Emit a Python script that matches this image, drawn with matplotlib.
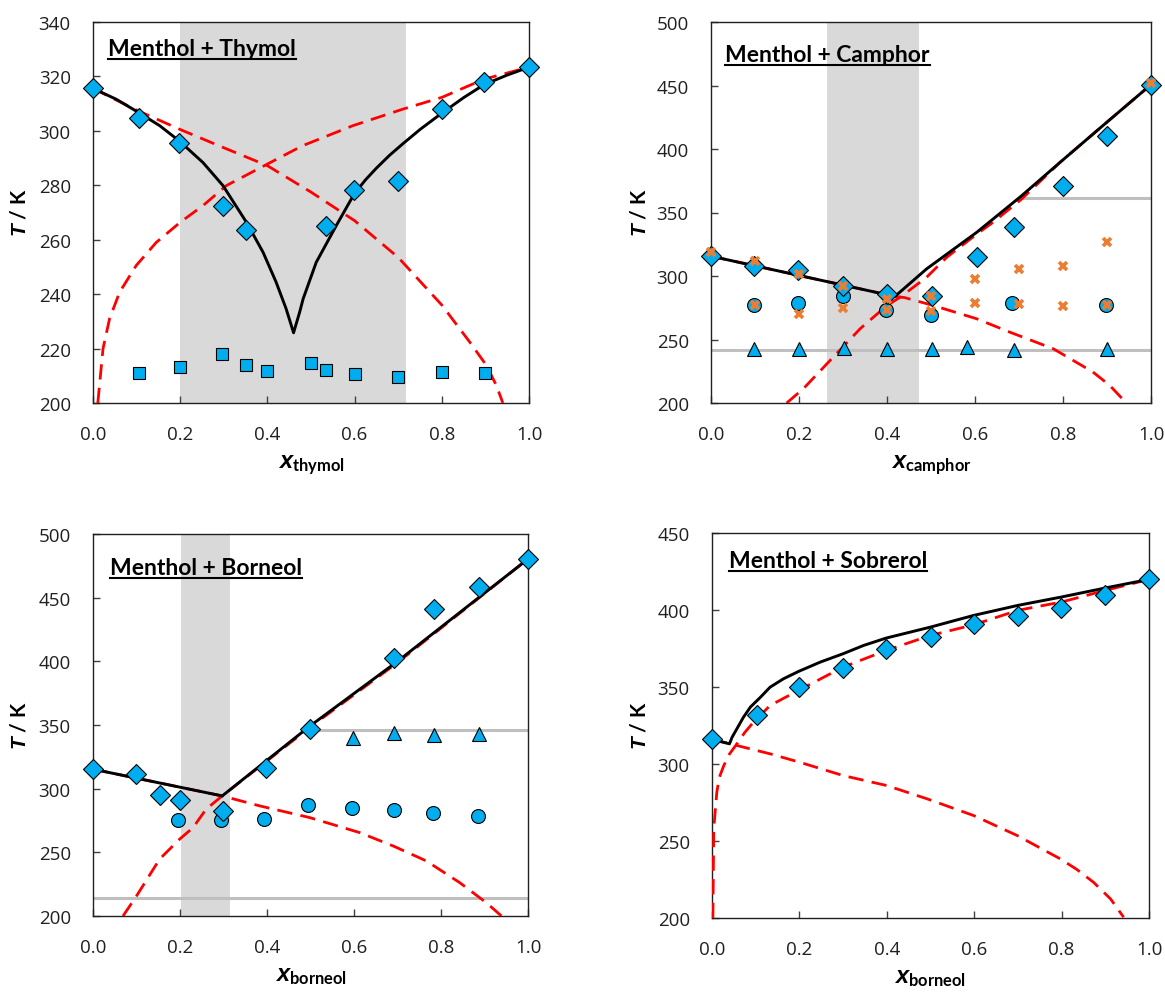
import matplotlib
matplotlib.use("Agg")
import matplotlib.pyplot as plt
from matplotlib.lines import Line2D

# ---- data ----
xticks = [0.0, 0.2, 0.4, 0.6, 0.8, 1.0]
xtick_labels = ["0.0", "0.2", "0.4", "0.6", "0.8", "1.0"]

# Menthol + Thymol
thy_x_liq = [0.0, 0.105, 0.197, 0.298, 0.352, 0.534, 0.599, 0.70, 0.80, 0.897, 1.0]
thy_T_liq = [315.6, 304.7, 295.5, 272.5, 263.7, 265.0, 278.4, 281.4, 308.2, 317.8, 323.4]
thy_x_sol = [0.105, 0.20, 0.297, 0.35, 0.40, 0.50, 0.534, 0.60, 0.70, 0.80, 0.898]
thy_T_sol = [211.0, 213.2, 218.0, 214.1, 211.9, 214.6, 212.2, 210.5, 209.4, 211.4, 211.0]
thy_x_fit = [0.0, 0.0535, 0.105, 0.153, 0.197, 0.252, 0.298, 0.352, 0.39, 0.42, 0.443, 0.46,
             0.474, 0.482, 0.512, 0.558, 0.599, 0.625, 0.65, 0.68, 0.711, 0.75, 0.80,
             0.85, 0.897, 0.95, 1.0]
thy_T_fit = [315.6, 311.6, 306.7, 301.9, 296.4, 288.4, 279.9, 266.4, 255.4, 244.4, 234.6, 225.8,
             233.4, 238.3, 251.7, 265.2, 276.8, 282.0, 286.3, 291.0, 295.3, 300.5, 306.5,
             312.2, 317.0, 320.5, 323.4]
thy_x_idA = [0.0, 0.10, 0.20, 0.30, 0.40, 0.50, 0.60, 0.70, 0.80, 0.864, 0.902, 0.925, 0.94]
thy_T_idA = [315.6, 307.6, 300.5, 293.8, 287.2, 277.5, 267.0, 253.5, 236.0, 222.4, 213.9, 206.5, 200.0]
thy_x_idB = [0.011, 0.023, 0.038, 0.061, 0.099, 0.145, 0.20, 0.252, 0.306, 0.40,
             0.48, 0.596, 0.711, 0.80, 0.897, 1.0]
thy_T_idB = [200.0, 220.0, 231.0, 240.7, 250.5, 259.0, 266.4, 272.5, 279.9, 287.8,
             294.5, 301.9, 308.0, 312.3, 319.0, 323.4]
thy_band = (0.20, 0.717)

# Menthol + Camphor
cam_x_liq = [0.0, 0.097, 0.198, 0.301, 0.40, 0.502, 0.604, 0.688, 0.799, 0.899, 1.0]
cam_T_liq = [315.6, 307.7, 305.1, 292.5, 285.7, 284.6, 315.3, 338.4, 370.6, 410.4, 450.7]
cam_x_cir = [0.097, 0.197, 0.301, 0.398, 0.50, 0.685, 0.897]
cam_T_cir = [277.3, 278.9, 283.9, 273.6, 268.9, 278.9, 277.3]
cam_x_tri = [0.097, 0.199, 0.303, 0.40, 0.502, 0.581, 0.688, 0.899]
cam_T_tri = [242.7, 242.7, 243.3, 242.7, 242.7, 244.0, 241.9, 242.7]
cam_x_lit = [0.0, 0.10, 0.10, 0.20, 0.20, 0.30, 0.30, 0.40, 0.40, 0.50, 0.50,
             0.60, 0.60, 0.70, 0.70, 0.80, 0.80, 0.90, 0.90, 1.0]
cam_T_lit = [318.7, 312.2, 277.3, 301.7, 270.2, 292.5, 274.7, 282.0, 272.9, 284.1, 272.1,
             297.7, 278.9, 305.6, 278.1, 308.2, 276.3, 326.6, 277.3, 451.8]
cam_x_fit = [0.0, 0.418, 0.49, 0.604, 0.706, 0.793, 0.899, 1.0]
cam_T_fit = [315.6, 283.9, 305.6, 334.4, 363.2, 389.4, 420.9, 450.7]
cam_x_idA = [0.0, 0.418, 0.44, 0.505, 0.604, 0.679, 0.778, 0.868, 0.906, 0.944]
cam_T_idA = [315.6, 283.9, 283.0, 276.8, 266.3, 255.8, 242.7, 224.4, 213.9, 200.0]
cam_x_idB = [0.172, 0.21, 0.278, 0.339, 0.40, 0.43, 0.49, 0.536, 0.604, 0.641, 0.706,
             0.793, 0.899, 1.0]
cam_T_idB = [200.0, 211.3, 236.2, 258.5, 276.8, 283.3, 299.0, 314.8, 333.0, 342.3, 360.6,
             389.4, 420.9, 450.7]
cam_band = (0.263, 0.472)
cam_lines = [(241.4, 0.0, 1.0), (361.1, 0.706, 1.0)]

# Menthol + Borneol
bor_x_liq = [0.0, 0.098, 0.155, 0.199, 0.299, 0.397, 0.498, 0.693, 0.784, 0.887, 1.0]
bor_T_liq = [315.3, 311.9, 295.1, 290.9, 282.6, 316.1, 346.7, 402.3, 441.1, 458.1, 480.4]
bor_x_cir = [0.196, 0.295, 0.393, 0.495, 0.595, 0.692, 0.782, 0.884]
bor_T_cir = [275.2, 275.2, 276.0, 287.0, 285.2, 283.3, 281.2, 278.6]
bor_x_tri = [0.598, 0.693, 0.785, 0.887]
bor_T_tri = [339.4, 344.1, 342.5, 343.3]
bor_x_fit = [0.0, 0.297, 0.498, 0.70, 1.0]
bor_T_fit = [315.3, 294.3, 349.0, 400.0, 480.4]
bor_x_idA = [0.0, 0.297, 0.383, 0.498, 0.613, 0.69, 0.766, 0.843, 0.904, 0.939]
bor_T_idA = [315.3, 294.3, 286.5, 277.3, 265.5, 255.0, 243.3, 226.2, 210.5, 200.0]
bor_x_idB = [0.069, 0.10, 0.153, 0.199, 0.23, 0.26, 0.297, 0.498, 0.70, 1.0]
bor_T_idB = [200.0, 215.7, 244.6, 260.3, 269.4, 283.9, 294.3, 348.0, 399.0, 480.4]
bor_band = (0.2015, 0.314)
bor_lines = [(213.9, 0.0, 1.0), (345.9, 0.498, 1.0)]

# Menthol + Sobrerol
sob_x_liq = [0.0, 0.103, 0.198, 0.30, 0.399, 0.50, 0.599, 0.70, 0.799, 0.90, 1.0]
sob_T_liq = [316.4, 331.5, 349.9, 362.3, 374.4, 382.2, 390.9, 395.9, 401.3, 409.5, 419.9]
sob_x_fit = [0.0, 0.04, 0.046, 0.057, 0.072, 0.088, 0.111, 0.133, 0.164, 0.198, 0.248, 0.30,
             0.347, 0.399, 0.50, 0.599, 0.70, 0.799, 0.90, 1.0]
sob_T_fit = [316.0, 313.1, 317.4, 322.9, 330.4, 337.0, 343.4, 349.9, 355.4, 360.1, 366.2, 371.6,
             377.0, 381.8, 388.9, 396.5, 403.0, 408.4, 414.3, 419.9]
sob_x_idA = [0.0, 0.057, 0.133, 0.20, 0.30, 0.40, 0.492, 0.599, 0.698, 0.797, 0.835, 0.873,
             0.912, 0.942]
sob_T_idA = [316.0, 312.0, 306.6, 301.2, 292.5, 286.0, 277.4, 266.5, 253.6, 238.4, 231.5, 223.2,
             212.4, 200.5]
sob_x_idB = [0.002, 0.004, 0.011, 0.017, 0.027, 0.04, 0.057, 0.075, 0.095, 0.133, 0.198, 0.25,
             0.30, 0.399, 0.50, 0.599, 0.70, 0.80, 0.90, 1.0]
sob_T_idB = [200.0, 257.9, 281.7, 291.5, 299.0, 306.5, 313.1, 320.5, 327.2, 338.0, 347.8, 355.5,
             362.9, 373.8, 383.5, 390.4, 399.8, 405.2, 412.7, 419.9]

# ---- styling ----
W, H = 1165, 995
BLUE = "#00AEEF"
ORANGE = "#ED7D31"
GREY = "#BFBFBF"
BAND = "#D9D9D9"
DASH = (0, (5.5, 3))

plt.rcParams["mathtext.fontset"] = "custom"
plt.rcParams["mathtext.bf"] = "Lato:bold"
plt.rcParams["mathtext.it"] = "Liberation Sans:italic:bold"

fig = plt.figure(figsize=(W / 100, H / 100), dpi=100)


def px_axes(left, top, right, bottom):
    return fig.add_axes([left / W, 1 - bottom / H, (right - left) / W, (bottom - top) / H])


def setup(ax, ylim, yticks):
    ax.set_xlim(0, 1)
    ax.set_ylim(*ylim)
    ax.set_xticks(xticks)
    ax.set_xticklabels(xtick_labels)
    ax.set_yticks(yticks)
    ax.tick_params(direction="in", length=5, width=1, labelsize=13.5, color="#404040")
    ax.tick_params(axis="x", pad=16)
    ax.tick_params(axis="y", pad=16)
    for lab in ax.get_xticklabels() + ax.get_yticklabels():
        lab.set_fontfamily("Open Sans")
        lab.set_color("#202020")
    for sp in ax.spines.values():
        sp.set_linewidth(1.0)
        sp.set_color("#202020")


def diamonds(ax, x, y):
    ax.plot(x, y, "D", ms=10, mfc=BLUE, mec="black", mew=0.8, zorder=5, clip_on=False)


def fit_lines(ax, xa, ya, xb, yb, xf, yf):
    ax.plot(xa, ya, color="red", lw=2.0, ls=DASH, zorder=3)
    ax.plot(xb, yb, color="red", lw=2.0, ls=DASH, zorder=3)
    ax.plot(xf, yf, color="black", lw=2.1, zorder=4)


titles = []


def title(ax, s, xpx, ypx):
    t = fig.text(xpx / W, 1 - ypx / H, s, fontsize=16.5, fontweight="bold",
                 family="Lato", va="baseline", ha="left")
    titles.append((t, ypx))


def labels(xs, xname, ypos_x, ypos_y, xlab_x, xlab_y):
    fig.text(ypos_x / W, 1 - ypos_y / H, r"$\mathit{T}$ / K", rotation=90,
             fontsize=15, fontweight="bold", family="Lato", ha="center", va="center")
    fig.text(xlab_x / W, 1 - xlab_y / H, r"$\mathit{x}_{\mathbf{" + xname + "}}$",
             fontsize=17, ha="center", va="center")


# panel 1: menthol + thymol
ax1 = px_axes(93, 23, 529, 404)
setup(ax1, (200, 340), range(200, 341, 20))
ax1.axvspan(*thy_band, color=BAND, lw=0, zorder=0)
fit_lines(ax1, thy_x_idA, thy_T_idA, thy_x_idB, thy_T_idB, thy_x_fit, thy_T_fit)
ax1.plot(thy_x_sol, thy_T_sol, "s", ms=8.5, mfc=BLUE, mec="black", mew=0.8, zorder=5)
diamonds(ax1, thy_x_liq, thy_T_liq)
title(ax1, "Menthol + Thymol", 108, 56)
labels(ax1, "thymol", 20, 213, 311, 466)

# panel 2: menthol + camphor
ax2 = px_axes(711, 23, 1151, 404)
setup(ax2, (200, 500), range(200, 501, 50))
ax2.axvspan(*cam_band, color=BAND, lw=0, zorder=0)
for T, x0, x1 in cam_lines:
    ax2.plot([x0, x1], [T, T], color=GREY, lw=2.2, zorder=1)
fit_lines(ax2, cam_x_idA, cam_T_idA, cam_x_idB, cam_T_idB, cam_x_fit, cam_T_fit)
ax2.plot(cam_x_tri, cam_T_tri, "^", ms=10, mfc=BLUE, mec="black", mew=0.8, zorder=5)
ax2.plot(cam_x_cir, cam_T_cir, "o", ms=10, mfc=BLUE, mec="black", mew=0.8, zorder=5)
diamonds(ax2, cam_x_liq, cam_T_liq)
ax2.plot(cam_x_lit, cam_T_lit, "x", ms=5.5, mec=ORANGE, mew=2.6, zorder=6, clip_on=False)
title(ax2, "Menthol + Camphor", 725, 62)
labels(ax2, "camphor", 640, 213, 931, 466)

# panel 3: menthol + borneol
ax3 = px_axes(93, 535, 528, 917)
setup(ax3, (200, 500), range(200, 501, 50))
ax3.axvspan(*bor_band, color=BAND, lw=0, zorder=0)
for T, x0, x1 in bor_lines:
    ax3.plot([x0, x1], [T, T], color=GREY, lw=2.2, zorder=1)
fit_lines(ax3, bor_x_idA, bor_T_idA, bor_x_idB, bor_T_idB, bor_x_fit, bor_T_fit)
ax3.plot(bor_x_tri, bor_T_tri, "^", ms=10, mfc=BLUE, mec="black", mew=0.8, zorder=5)
ax3.plot(bor_x_cir, bor_T_cir, "o", ms=10, mfc=BLUE, mec="black", mew=0.8, zorder=5)
diamonds(ax3, bor_x_liq, bor_T_liq)
title(ax3, "Menthol + Borneol", 110, 575)
labels(ax3, "borneol", 20, 726, 311, 975)

# panel 4: menthol + sobrerol
ax4 = px_axes(712, 534, 1149, 919)
setup(ax4, (200, 450), range(200, 451, 50))
fit_lines(ax4, sob_x_idA, sob_T_idA, sob_x_idB, sob_T_idB, sob_x_fit, sob_T_fit)
diamonds(ax4, sob_x_liq, sob_T_liq)
title(ax4, "Menthol + Sobrerol", 729, 568)
labels(ax4, "borneol", 640, 726, 930, 977)

# underline the panel titles
fig.canvas.draw()
r = fig.canvas.get_renderer()
for t, ypx in titles:
    bb = t.get_window_extent(renderer=r)
    yy = 1 - (ypx + 4) / H
    fig.add_artist(Line2D([bb.x0 / W, bb.x1 / W], [yy, yy], color="black", lw=1.5))

fig.savefig("out.png", dpi=100)
